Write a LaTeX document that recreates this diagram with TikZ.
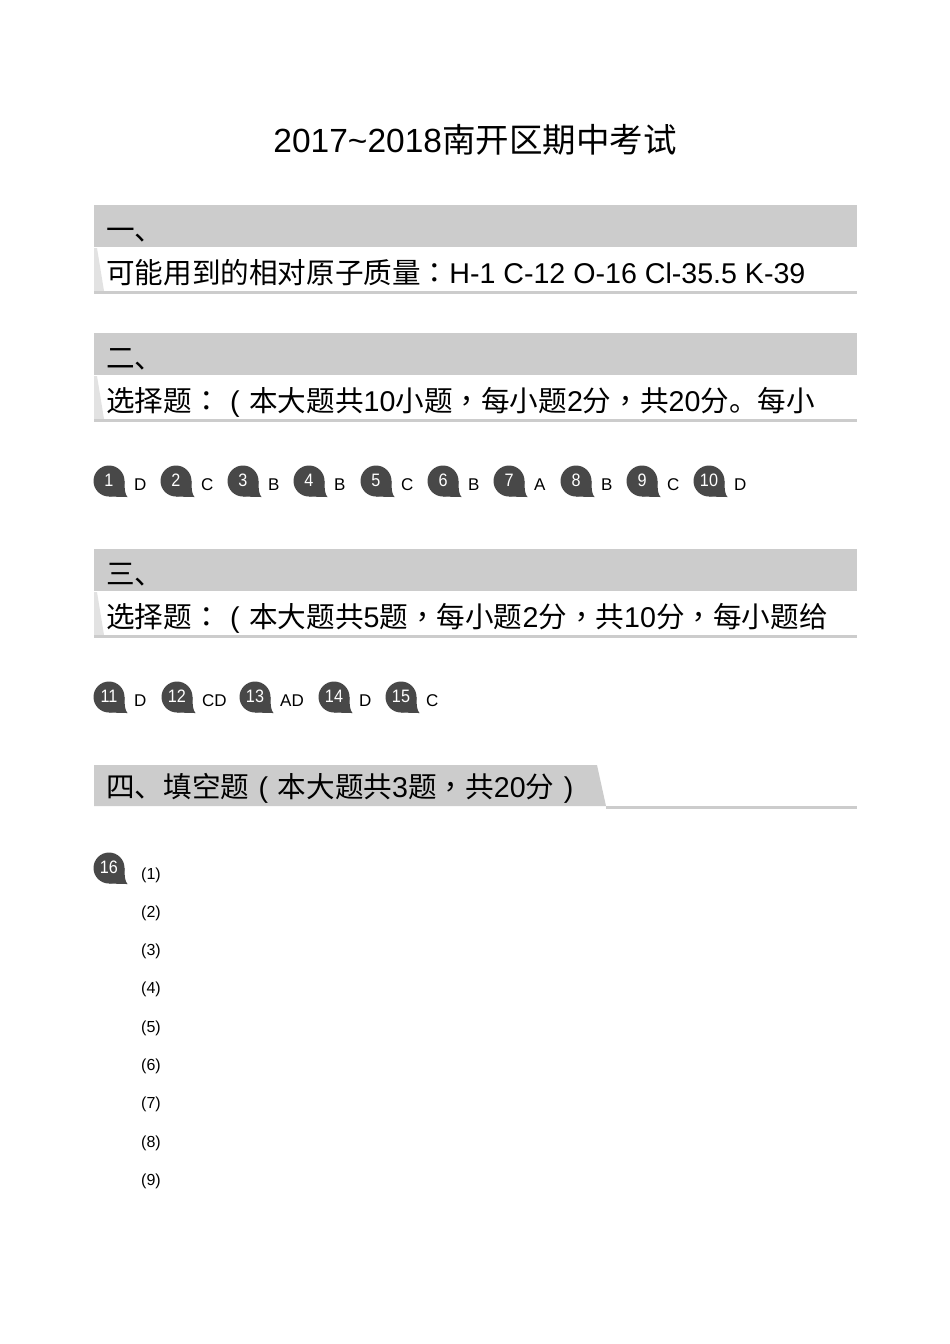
\documentclass[tikz,border=0pt]{standalone}
\usepackage{fontspec}
\setmainfont{Liberation Sans}
\newfontfamily\cjk{Noto Sans CJK SC}
\newfontfamily\cjkp{Noto Sans CJK TC}
\usetikzlibrary{positioning}
\definecolor{BandClr}{RGB}{204,204,204}
\definecolor{WedgeClr}{RGB}{226,226,226}
\definecolor{BadgeClr}{RGB}{72,72,72}
\newcommand\widepar[1]{\makebox[1em]{#1}}

\tikzset{
  headtext/.style={anchor=base west,inner sep=0pt,font=\fontsize{28.6}{28.6}\selectfont},
  badgenum/.style={text=white,inner sep=0pt,xscale=0.9,font=\fontsize{18}{18}\selectfont},
  answer/.style={anchor=base west,inner sep=0pt,font=\fontsize{17}{17}\selectfont},
  pics/qbubble/.style={code={
    \fill[BadgeClr] (0,0) circle (15.5);
    \fill[BadgeClr] (15.5,0) .. controls (15.5,9) and (16,13) .. (18.5,16)
      .. controls (10,16) and (4,15.5) .. (0,15.5) -- (0,0) -- cycle;
  }}
}

\begin{document}
\begin{tikzpicture}[x=1pt,y=-1pt]
\useasboundingbox[fill=white] (0,0) rectangle (950,1344);

% Title.
\node[anchor=base,inner sep=0pt,font=\fontsize{33.5}{33.5}\selectfont] (title) at (475,152)
  {2017\textasciitilde2018{\cjk 南开区期中考试}};

% Parts 1 to 3: bands.
\foreach \t in {205,333,549} {
  \fill[BandClr] (94,\t) rectangle (857,\t+42);
  \fill[WedgeClr] (94,\t+43) -- (97,\t+43) -- (104,\t+86) -- (94,\t+86) -- cycle;
  \draw[BandClr,line width=3] (94,\t+87.5) -- (857,\t+87.5);
}

% Part 1.
\node[headtext] (h1) at (106,240) {\cjk 一、};
\node[headtext] (s1) at (106,283) {{\cjk 可能用到的相对原子质量}{\cjkp ：}H-1 C-12 O-16 Cl-35.5 K-39};

% Part 2.
\node[headtext] (h2) at (106,368) {\cjk 二、};
\node[headtext] (s2) at (106,411) {{\cjk 选择题}{\cjkp ：}\widepar{(}{\cjk 本大题共}10{\cjk 小题}{\cjkp ，}{\cjk 每小题}2{\cjk 分}{\cjkp ，}{\cjk 共}20{\cjk 分。每小}};

\foreach \n/\x/\a in {1/109/D,2/176/C,3/243/B,4/309/B,5/376/C,6/443/B,7/509/A,8/576/B,9/642/C,10/709/D} {
  \pic at (\x,481) {qbubble};
  \node[badgenum] (q\n) at (\x,480) {\n};
  \node[answer] (a\n) at (\x+25,490) {\a};
}

% Part 3.
\node[headtext] (h3) at (106,584) {\cjk 三、};
\node[headtext] (s3) at (106,627) {{\cjk 选择题}{\cjkp ：}\widepar{(}{\cjk 本大题共}5{\cjk 题}{\cjkp ，}{\cjk 每小题}2{\cjk 分}{\cjkp ，}{\cjk 共}10{\cjk 分}{\cjkp ，}{\cjk 每小题给}};

\foreach \n/\x/\a in {11/109/D,12/177/CD,13/255/AD,14/334/D,15/401/C} {
  \pic at (\x,697) {qbubble};
  \node[badgenum] (q\n) at (\x,696) {\n};
  \node[answer] (a\n) at (\x+25,706) {\a};
}

% Part 4.
\fill[BandClr] (94,765) -- (597,765) -- (606,806) -- (94,806) -- cycle;
\draw[BandClr,line width=3] (606,807) -- (857,807);
\node[headtext] (h4) at (106,797)
  {{\cjk 四、填空题}\widepar{(}{\cjk 本大题共}3{\cjk 题}{\cjkp ，}{\cjk 共}20{\cjk 分}\widepar{)}};

\pic at (109,868) {qbubble};
\node[badgenum] (q16) at (109,867) {16};
\foreach \k in {1,...,9} {
  \node[anchor=base west,inner sep=0pt,font=\fontsize{16}{16}\selectfont] (b\k) at (141,{879+38.3*(\k-1)}) {(\k)};
}

\end{tikzpicture}
\end{document}
